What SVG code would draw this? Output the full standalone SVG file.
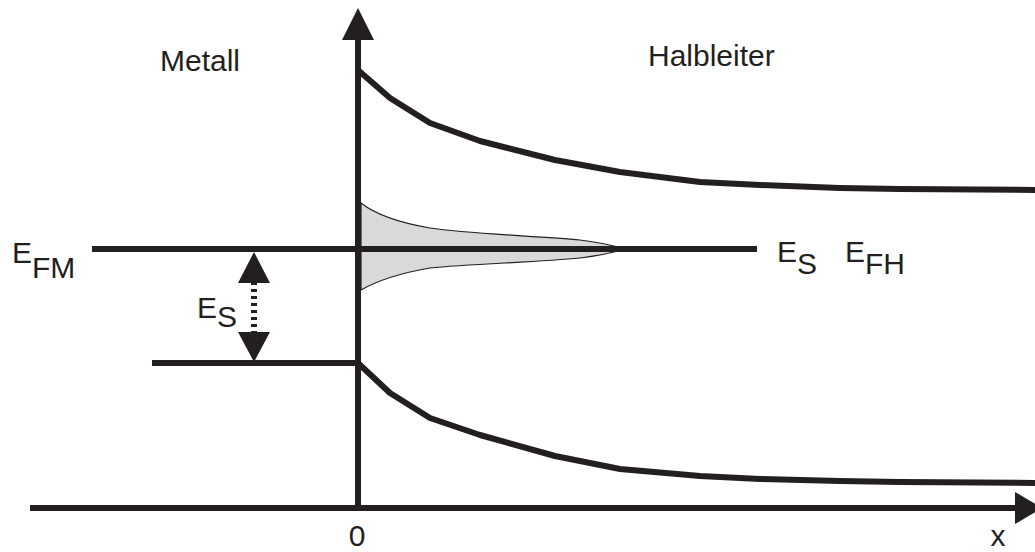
<svg xmlns="http://www.w3.org/2000/svg" width="1035" height="552" viewBox="0 0 1035 552">
<style>
.ln{stroke:#231f20;stroke-width:6;fill:none}
.cv{stroke:#231f20;stroke-width:6;fill:none;stroke-linejoin:round}
.ah{fill:#231f20}
text{font-family:"Liberation Sans",Arial,sans-serif;font-size:30px;fill:#231f20}
</style>
<rect width="1035" height="552" fill="#fff"/>
<g id="states">
<path d="M361,203 C375,214 395,222 430,228 C470,234 540,236 580,240 C605,243 615,246 625,249 C615,252 605,255 580,258 C540,262 470,264 430,268 C395,274 375,282 361,290 Z" fill="#d9d9d9" stroke="#231f20" stroke-width="1.2"/>
</g>
<g id="conduction-band">
<polyline class="cv" points="359,71 390,98 430,123 480,141 555,160 620,172 700,182 760,185 840,188 900,189 1035,190"/>
</g>
<g id="valence-band">
<polyline class="cv" points="359,364 390,393 430,418 480,435 555,456 620,469 700,476 760,479 840,481 900,482 1035,483"/>
</g>
<g id="fermi-line">
<line class="ln" x1="92" y1="249" x2="757" y2="249"/>
</g>
<g id="metal-lower">
<line class="ln" x1="152" y1="363" x2="358" y2="363"/>
</g>
<g id="connectors">
<line class="ln" x1="358" y1="38" x2="358" y2="511"/>
<polygon class="ah" points="358,8 342,40 374,40"/>
<line class="ln" x1="30" y1="508" x2="1018" y2="508"/>
<polygon class="ah" points="1042,508 1015,492 1015,524"/>
<line x1="254" y1="282" x2="254" y2="334" stroke="#231f20" stroke-width="6" stroke-dasharray="3 4"/>
<polygon class="ah" points="254,252 238,283 270,283"/>
<polygon class="ah" points="254,362 238,332 270,332"/>
</g>
<g id="labels">
<text x="160" y="71">Metall</text>
<text x="648" y="66">Halbleiter</text>
<text x="12" y="263">E</text><text x="32" y="278">FM</text>
<text x="197" y="318">E</text><text x="217" y="327">S</text>
<text x="777" y="262">E</text><text x="797" y="274">S</text>
<text x="845" y="262">E</text><text x="865" y="274">FH</text>
<text x="357" y="546" text-anchor="middle">0</text>
<text x="998" y="546" text-anchor="middle">x</text>
</g>
</svg>
